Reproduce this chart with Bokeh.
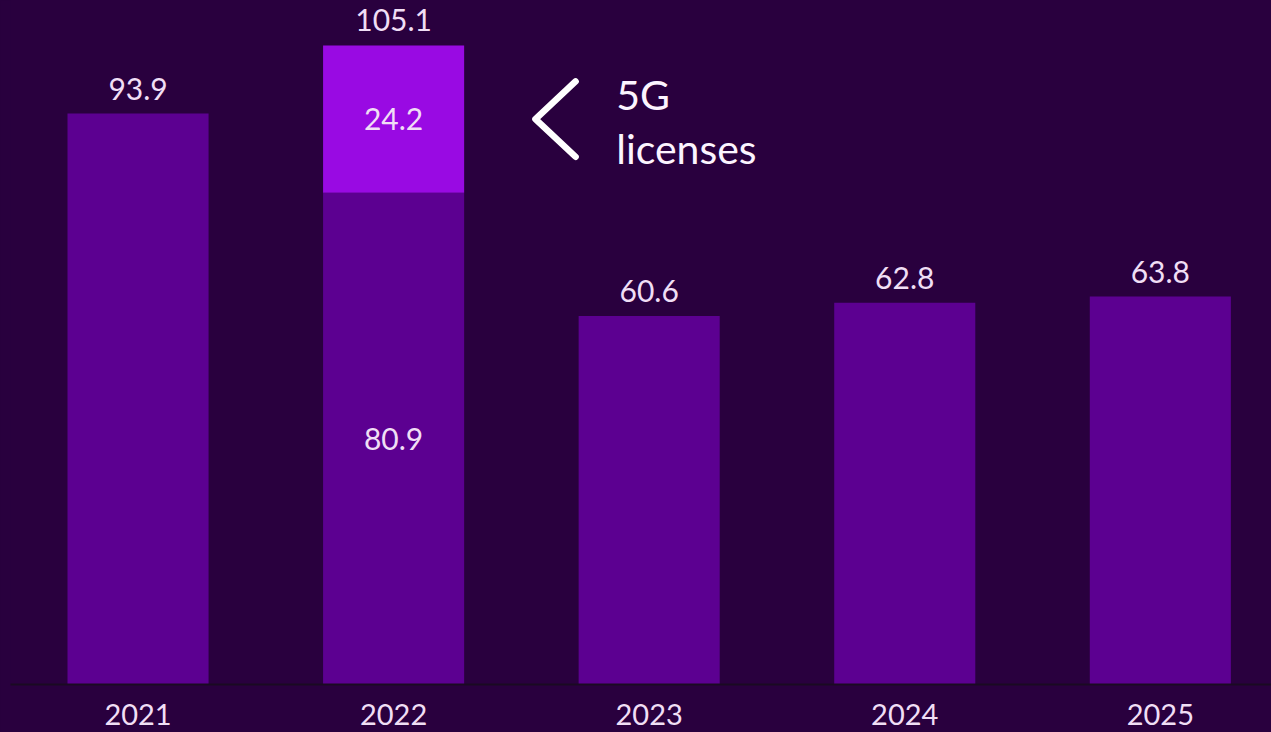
from bokeh.plotting import figure
from bokeh.models import Range1d, FixedTicker
from bokeh.core.properties import value
from bokeh.embed import file_html
from bokeh.resources import INLINE

# ---- data ----
years = ["2021", "2022", "2023", "2024", "2025"]
base_values = [93.9, 80.9, 60.6, 62.8, 63.8]
license_values = [0.0, 24.2, 0.0, 0.0, 0.0]
total_values = [93.9, 105.1, 60.6, 62.8, 63.8]
annotation_lines = ["5G", "licenses"]

# ---- style ----
BG = "#29003e"
BAR = "#5c0091"
HILITE = "#990ae3"
LABEL = "#f0def5"
FONT = "Lato"
BAR_W = 0.552

idx = list(range(len(years)))

p = figure(width=1271, height=732, output_backend="svg", toolbar_location=None,
           x_range=Range1d(-0.499, 4.435), y_range=Range1d(0, 112.5),
           min_border_left=10, min_border_right=0, min_border_top=0,
           min_border_bottom=48)
p.background_fill_color = None
p.border_fill_color = BG
p.outline_line_color = None
p.grid.visible = False
p.yaxis.visible = False

# base bars
p.vbar(x=idx, top=base_values, width=BAR_W, fill_color=BAR, line_color=None)

# 5G license segments
lx = [i for i, v in zip(idx, license_values) if v > 0]
lb = [b for b, v in zip(base_values, license_values) if v > 0]
lt = [b + v for b, v in zip(base_values, license_values) if v > 0]
p.vbar(x=lx, bottom=lb, top=lt, width=BAR_W, fill_color=HILITE, line_color=None)

# total labels
p.text(x=idx, y=total_values, text=[f"{v:.1f}" for v in total_values],
       text_align="center", text_baseline="alphabetic", y_offset=-25,
       text_font=value(FONT), text_font_size="30px", text_color=LABEL)

# inner labels for stacked bar
ix, iy, itxt = [], [], []
for i, b, v in zip(idx, base_values, license_values):
    if v > 0:
        ix += [i, i]
        iy += [b / 2, b + v / 2]
        itxt += [f"{b:.1f}", f"{v:.1f}"]
p.text(x=ix, y=iy, text=itxt, text_align="center", text_baseline="middle",
       text_font=value(FONT), text_font_size="30px", text_color=LABEL)

# annotation chevron + text
k = lx[0]
mid = lb[0] + license_values[k] / 2
edge = k + BAR_W / 2
p.line(x=[edge + 0.436, edge + 0.279, edge + 0.436], y=[mid + 6.2, mid, mid - 6.2],
       line_color="#ffffff", line_width=6.5, line_cap="round", line_join="round")
p.text(x=[edge + 0.595, edge + 0.595], y=[mid, mid], text=annotation_lines,
       y_offset=[-25, 29], text_align="left", text_baseline="alphabetic",
       text_font=value(FONT), text_font_size="41px", text_color="#fcf4ff")

# x axis
xa = p.xaxis[0]
xa.ticker = FixedTicker(ticks=idx)
xa.major_label_overrides = {i: y for i, y in zip(idx, years)}
xa.major_tick_line_color = None
xa.minor_tick_line_color = None
xa.axis_line_color = "#1a0a22"
xa.axis_line_width = 2
xa.major_label_standoff = 13
xa.major_label_text_font = FONT
xa.major_label_text_font_size = "29px"
xa.major_label_text_color = LABEL

html = file_html(p, INLINE)
html = html.replace("<head>", "<head><style>html,body{margin:0;padding:0;background:#29003e;overflow:hidden}</style>", 1)
html = html.replace("<body>", '<body style="margin:0;background:#29003e;overflow:hidden">', 1)
open("out.html", "w").write(html)
